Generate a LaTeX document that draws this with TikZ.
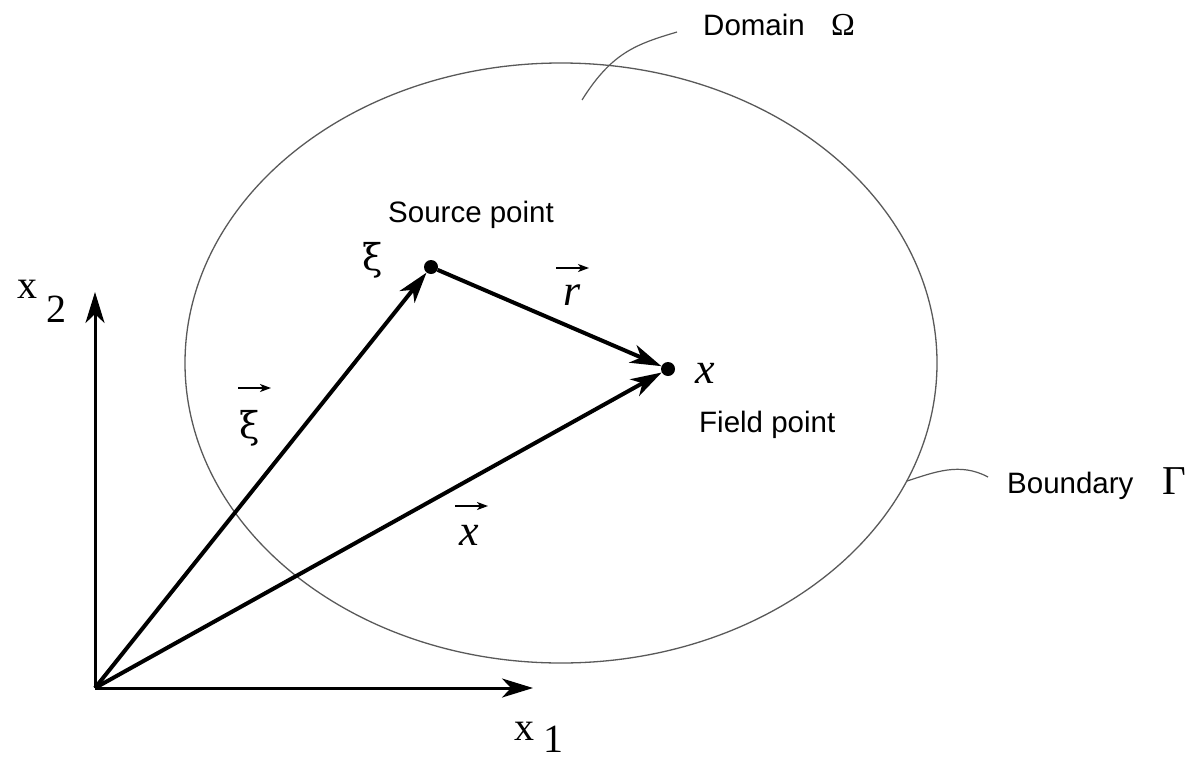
\documentclass[tikz,border=0pt]{standalone}
\usepackage{fontspec}
\setmainfont{Liberation Serif}
\newfontfamily\sflab{Liberation Sans}
\newfontfamily\grk{DejaVu Serif}
\usetikzlibrary{arrows.meta}
\begin{document}
\begin{tikzpicture}[x=1pt,y=-1pt,
  sflabel/.style={inner sep=0pt,anchor=base west,font=\sflab\fontsize{29.5}{31}\selectfont},
  symlabel/.style={inner sep=0pt,font=\fontsize{44}{46}\selectfont},
  xilabel/.style={inner sep=0pt,font=\grk\fontsize{37}{39}\selectfont},
  idxlabel/.style={inner sep=0pt,anchor=base west,font=\fontsize{40}{42}\selectfont},
  vecline/.style={line width=4pt,-{Stealth[length=31pt,width=19pt,inset=9pt]}},
  axisline/.style={line width=3pt,-{Stealth[length=31pt,width=19pt,inset=9pt]}},
  overarrow/.style={line width=1.6pt,-{Stealth[length=11pt,width=8pt,inset=3pt]}},
  leader/.style={line width=1.2pt,draw=black!65},
  dot/.style={circle,fill=black,inner sep=0pt,minimum size=14pt}]
\useasboundingbox (0,0) rectangle (1188,763);
% boundary
\draw[line width=1.3pt,draw=black!65] (561,363) ellipse [x radius=376, y radius=300];
% points
\coordinate (o) at (95,688);
\node[dot] (src) at (431,267) {};
\node[dot] (fld) at (668,369) {};
\coordinate (x1end) at (533,688);
\coordinate (x2end) at (95,292);
% axes
\draw[axisline] (o) -- (x1end);
\draw[axisline] (o) -- (x2end);
% vectors
\draw[vecline] (o) -- (src);
\draw[vecline] (o) -- (fld);
\draw[vecline] (src) -- (fld);
% axis labels
\node[idxlabel] (x1a) at (514,740) {x};
\node[idxlabel] (x1b) at (543,752) {1};
\node[idxlabel] (x2a) at (17,298) {x};
\node[idxlabel] (x2b) at (46,322) {2};
% point labels
\node[sflabel] (srclab) at (388,222) {Source point};
\node[sflabel] (fldlab) at (699,432) {Field point};
\node[xilabel,anchor=center] (xi) at (373,260) {ξ};
\node[symlabel,anchor=base west] (xlab) at (695,383) {\itshape x};
% vector labels
\node[symlabel,anchor=base west] (rlab) at (563,305) {\itshape r};
\coordinate (ra) at (556,268); \coordinate (rb) at (589,268);
\draw[overarrow] (ra) -- (rb);
\node[symlabel,anchor=base west] (xvlab) at (459,545) {\itshape x};
\coordinate (xa) at (455,506); \coordinate (xb) at (488,506);
\draw[overarrow] (xa) -- (xb);
\node[xilabel,anchor=center] (xivlab) at (250,428) {ξ};
\coordinate (xia) at (238,388); \coordinate (xib) at (271,388);
\draw[overarrow] (xia) -- (xib);
% domain
\node[sflabel] (domlab) at (703,35) {Domain};
\node[inner sep=0pt,anchor=base west,font=\fontsize{32}{34}\selectfont] (omega) at (831,35) {Ω};
\coordinate (d1) at (582,100);
\coordinate (d2) at (677,32);
\draw[leader] (d1) .. controls (612,52) and (637,44) .. (d2);
% boundary label
\node[sflabel] (bndlab) at (1007,493) {Boundary};
\node[inner sep=0pt,anchor=base west,font=\fontsize{41}{43}\selectfont] (gamma) at (1162,494) {Γ};
\coordinate (b1) at (907,481);
\coordinate (b2) at (988,477);
\draw[leader] (b1) .. controls (935,472) and (960,462) .. (b2);
\end{tikzpicture}
\end{document}
